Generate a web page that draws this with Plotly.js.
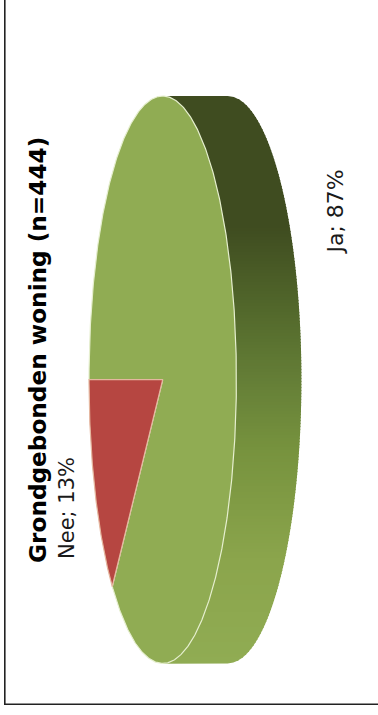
<!DOCTYPE html>
<html>
<head>
<meta charset="utf-8">
<script src="https://cdn.plot.ly/plotly-3.0.1.min.js"></script>
<style>html,body{margin:0;padding:0;background:#fff}#chart{width:378px;height:715px}</style>
</head>
<body>
<div id="chart"></div>
<script>
const categories = ['Nee', 'Ja'];
const values = [13, 87];
const sliceColors = ['#b64641', '#90ac53'];
const sliceEdges = ['#e5b79f', '#e6efcf'];
const chartTitle = 'Grondgebonden woning (n=444)';
const sideStops = [[96,[63,76,32]],[225,[63,76,32]],[300,[80,101,42]],[380,[101,127,55]],[450,[119,147,62]],[560,[139,165,76]],[664,[144,172,83]]];

const cx = 162.7, cy = 379.7, rx = 73.7, ry = 283.7, depth = 65;
const total = values.reduce((a, b) => a + b, 0);

function px(t) { return cx - rx * Math.cos(t); }
function py(t) { return cy + ry * Math.sin(t); }
function sideColor(y) {
  for (let i = 1; i < sideStops.length; i++) {
    const [y0, c0] = sideStops[i - 1], [y1, c1] = sideStops[i];
    if (y <= y1) {
      const f = (y - y0) / (y1 - y0);
      return 'rgb(' + c0.map((c, k) => Math.round(c + (c1[k] - c) * f)).join(',') + ')';
    }
  }
  return 'rgb(144,172,83)';
}
function rimX(y) {
  const d = Math.max(0, 1 - Math.pow((y - cy) / ry, 2));
  return cx + depth + rx * Math.sqrt(d);
}

const traces = [];
const step = 3;
for (let y = cy - ry; y < cy + ry; y += step) {
  const y2 = Math.min(y + step + 1, cy + ry);
  const xs = [cx, rimX(y)], ys = [y, y];
  const n = 4;
  for (let i = 1; i <= n; i++) {
    const yy = y + (y2 - y) * i / n;
    xs.push(rimX(yy)); ys.push(yy);
  }
  xs.push(cx); ys.push(y2);
  traces.push({type: 'scatter', mode: 'lines', x: xs, y: ys, fill: 'toself',
    fillcolor: sideColor(y), line: {width: 0}, hoverinfo: 'skip', showlegend: false});
}

let start = 0;
const order = [1, 0];
const arcs = values.map(v => {
  const a0 = start; start += v / total * 2 * Math.PI;
  return [a0, start];
});
order.forEach(i => {
  const [a0, a1] = arcs[i];
  const xs = [cx], ys = [cy];
  const n = Math.ceil((a1 - a0) / 0.01);
  for (let k = 0; k <= n; k++) {
    const t = a0 + (a1 - a0) * k / n;
    xs.push(px(t)); ys.push(py(t));
  }
  xs.push(cx); ys.push(cy);
  traces.push({type: 'scatter', mode: 'lines', x: xs, y: ys, fill: 'toself',
    fillcolor: sliceColors[i], line: {color: sliceEdges[i], width: 1.2},
    name: categories[i], hoverinfo: 'name', showlegend: false});
});

const labelPos = {Nee: {x: 67, y: 561, yanchor: 'bottom', size: 21}, Ja: {x: 335, y: 257, yanchor: 'bottom', size: 22}};
const annotations = categories.map((c, i) => ({
  text: c + '; ' + values[i] + '%', x: labelPos[c].x, y: labelPos[c].y,
  xref: 'x', yref: 'y', showarrow: false, textangle: -90,
  xanchor: 'center', yanchor: labelPos[c].yanchor,
  font: {family: 'DejaVu Sans', size: labelPos[c].size, color: '#1a1a1a'}
}));
annotations.push({
  text: '<b>' + chartTitle + '</b>', x: 37, y: 565, xref: 'x', yref: 'y', showarrow: false,
  textangle: -90, xanchor: 'center', yanchor: 'bottom',
  font: {family: 'DejaVu Sans', size: 23.2, color: '#000'}
});

const layout = {
  width: 378, height: 715, margin: {l: 0, r: 0, t: 0, b: 0},
  paper_bgcolor: '#fff', plot_bgcolor: '#fff', showlegend: false,
  xaxis: {range: [0, 378], visible: false, fixedrange: true},
  yaxis: {range: [715, 0], visible: false, fixedrange: true},
  annotations: annotations,
  shapes: [
    {type: 'line', xref: 'x', yref: 'y', x0: 4.8, x1: 4.8, y0: 0, y1: 704.3, line: {color: '#222', width: 1.6}},
    {type: 'line', xref: 'x', yref: 'y', x0: 4, x1: 378, y0: 704.3, y1: 704.3, line: {color: '#222', width: 1.6}}
  ]
};
Plotly.newPlot('chart', traces, layout, {displayModeBar: false, staticPlot: true});
</script>
</body>
</html>
